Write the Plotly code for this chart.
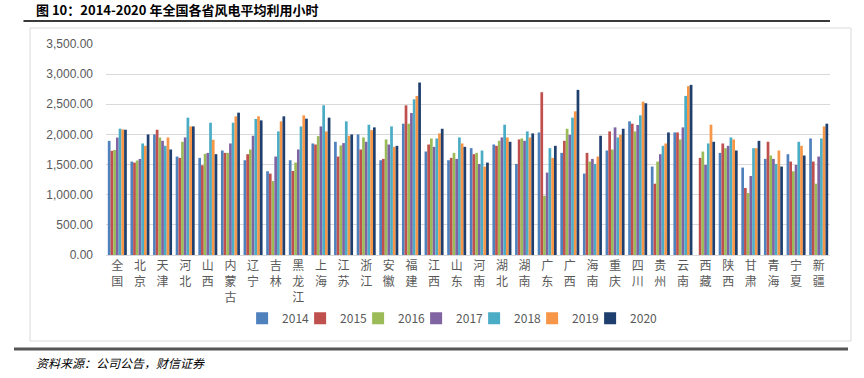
import plotly.graph_objects as go

provinces = ["全国", "北京", "天津", "河北", "山西", "内蒙古", "辽宁", "吉林", "黑龙江", "上海",
             "江苏", "浙江", "安徽", "福建", "江西", "山东", "河南", "湖北", "湖南", "广东",
             "广西", "海南", "重庆", "四川", "贵州", "云南", "西藏", "陕西", "甘肃", "青海",
             "宁夏", "新疆"]

years = ["2014", "2015", "2016", "2017", "2018", "2019", "2020"]

v2014 = [1893, 1550, 2000, 1633, 1611, 1733, 1572, 1389, 1572, 1850, 1878, 2000, 1572, 2178, 1717, 1572,
         1772, 1833, 1511, 2033, 1694, 1350, 1733, 2217, 1467, 2033, None, 1694, 1450, 1594, 1672, 1933]
v2015 = [1728, 1533, 2078, 1611, 1489, 1694, 1672, 1350, 1394, 1833, 1633, 1750, 1594, 2483, 1833, 1611,
         1672, 1811, 1917, 2700, 1894, 1694, 2050, 2178, 1183, 2033, 1611, 1850, 1111, 1878, 1550, 1550]
v2016 = [1742, 1567, 1950, 1878, 1678, 1694, 1750, 1228, 1533, 1972, 1817, 1950, 1917, 2178, 1933, 1694,
         1694, 1894, 1933, 983, 2094, 1550, 1750, 2050, 1550, 1917, 1717, 1772, 1028, 1650, 1389, 1183]
v2017 = [1948, 1594, 1894, 1950, 1694, 1850, 1978, 1633, 1750, 2133, 1856, 1878, 1833, 2356, 1794, 1594,
         1511, 1950, 1894, 1367, 1994, 1594, 2117, 2156, 1672, 2117, 1494, 1811, 1311, 1594, 1494, 1633]
v2018 = [2095, 1850, 1811, 2278, 2194, 2194, 2256, 2050, 2133, 2483, 2217, 2161, 2133, 2583, 1933, 1950,
         1733, 2161, 2050, 1772, 2278, 1511, 1950, 2317, 1811, 2639, 1850, 1950, 1772, 1511, 1878, 1933]
v2019 = [2082, 1811, 1950, 2133, 1911, 2300, 2300, 2217, 2317, 2050, 1978, 2072, 1794, 2639, 2017, 1850,
         1467, 1950, 1950, 1611, 2383, 1633, 1994, 2544, 1850, 2800, 2161, 1917, 1772, 1733, 1811, 2133]
v2020 = [2078, 2000, 1750, 2133, 1672, 2361, 2233, 2300, 2261, 2278, 2000, 2117, 1811, 2861, 2094, 1794,
         1533, 1878, 2017, 1811, 2739, 1978, 2094, 2517, 2033, 2822, 1878, 1733, 1894, 1467, 1650, 2178]

series = [v2014, v2015, v2016, v2017, v2018, v2019, v2020]
colors = ["#4F81BD", "#C0504D", "#9BBB59", "#8064A2", "#4BACC6", "#F79646", "#1F3F6E"]

tick_text = ["<br>".join(list(p)) for p in provinces]

fig = go.Figure()
for name, vals, col in zip(years, series, colors):
    fig.add_trace(go.Bar(name=name, x=provinces, y=vals, marker_color=col,
                         marker_line_width=0))

# invisible spacer entry so the last legend label is not clipped
fig.add_trace(go.Scatter(name="", x=[None], y=[None], mode="markers",
                         marker=dict(color="rgba(0,0,0,0)"), hoverinfo="skip"))

font_cjk = "Noto Sans CJK SC"

fig.update_layout(
    width=864, height=378,
    margin=dict(l=106, r=34, t=44, b=123),
    paper_bgcolor="white", plot_bgcolor="white",
    barmode="group", bargap=0.16, bargroupgap=0.0,
    font=dict(family=font_cjk, size=12, color="#595959"),
    showlegend=True,
    legend=dict(orientation="h", x=0.188, xanchor="left", y=-0.30, yanchor="middle",
                entrywidth=13, entrywidthmode="pixels", bgcolor="rgba(0,0,0,0)",
                font=dict(size=12, color="#595959"), itemclick=False),
    xaxis=dict(tickmode="array", tickvals=provinces, ticktext=tick_text,
               tickangle=0, showgrid=False, showline=True, linecolor="#D9D9D9",
               ticks="", tickfont=dict(size=12, color="#595959")),
    yaxis=dict(range=[0, 3500], dtick=500, tickformat=",.2f", showgrid=True,
               gridcolor="#D9D9D9", gridwidth=1, zeroline=False, showline=False,
               ticks="", ticklabelstandoff=12,
               tickfont=dict(family="Liberation Sans", size=12, color="#595959")),
    shapes=[
        dict(type="line", xref="paper", yref="paper", x0=-0.114, x1=1.0,
             y0=(255-21)/211, y1=(255-21)/211, line=dict(color="#3A3A3A", width=2)),
        dict(type="rect", xref="paper", yref="paper", x0=(30-106)/724, x1=(851-106)/724,
             y0=(255-341)/211, y1=(255-28)/211, line=dict(color="#D9D9D9", width=1)),
        dict(type="line", xref="paper", yref="paper", x0=(14-106)/724, x1=(848-106)/724,
             y0=(255-349)/211, y1=(255-349)/211, line=dict(color="#555555", width=3)),
    ],
    annotations=[
        dict(text="<b>图 10：2014-2020 年全国各省风电平均利用小时</b>", xref="paper", yref="paper",
             x=(34-106)/724, y=(255-10)/211, xanchor="left", yanchor="middle", showarrow=False,
             font=dict(family=font_cjk, size=13, color="#000000")),
        dict(text="资料来源：公司公告，财信证券", xref="paper", yref="paper",
             x=(34-106)/724, y=(255-362)/211, xanchor="left", yanchor="middle", showarrow=False,
             font=dict(family=font_cjk, size=12, color="#000000", style="italic")),
    ],
)

fig.write_html("out.html")
